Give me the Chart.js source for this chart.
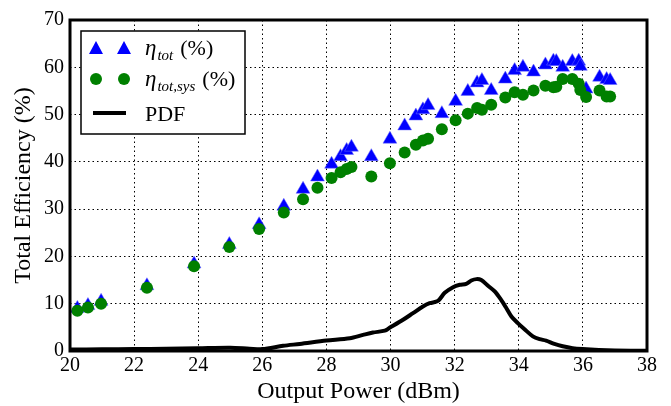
<!DOCTYPE html>
<html>
<head>
<meta charset="utf-8">
<script src="https://cdn.jsdelivr.net/npm/chart.js@4.4.0/dist/chart.umd.min.js"></script>
<style>
  html, body { margin: 0; padding: 0; background: #fff; }
  #wrap { width: 671px; height: 406px; position: relative; }
</style>
</head>
<body>
<div id="wrap"><canvas id="chart"></canvas></div>
<script>
// measured points (output power in dBm)
const outputPower = [20.23, 20.56, 20.97, 22.40, 23.87, 24.97, 25.90, 26.67, 27.27, 27.72,
  28.16, 28.44, 28.63, 28.78, 29.40, 29.98, 30.44, 30.79, 31.01, 31.17,
  31.60, 32.03, 32.41, 32.70, 32.85, 33.14, 33.58, 33.87, 34.13, 34.46,
  34.83, 35.08, 35.17, 35.37, 35.67, 35.87, 35.92, 36.10, 36.52, 36.74, 36.85];
const etaTot = [9.0, 9.6, 10.5, 13.8, 18.4, 22.5, 26.7, 30.6, 34.2, 36.8,
  39.5, 41.1, 42.4, 43.1, 41.1, 44.8, 47.6, 49.7, 51.0, 51.9,
  50.2, 52.8, 54.9, 56.7, 57.2, 55.1, 57.5, 59.3, 60.0, 59.0,
  60.5, 61.3, 61.2, 60.0, 61.2, 61.3, 60.2, 55.4, 57.9, 57.4, 57.2];
const etaTotSys = [8.5, 9.2, 10.0, 13.4, 17.9, 22.0, 25.8, 29.3, 32.1, 34.5,
  36.6, 37.8, 38.5, 38.9, 36.9, 39.7, 42.0, 43.6, 44.5, 44.9,
  46.9, 48.8, 50.2, 51.4, 51.0, 52.1, 53.6, 54.7, 54.2, 55.1,
  56.1, 55.8, 55.9, 57.5, 57.5, 56.5, 55.2, 53.7, 55.1, 53.8, 53.8];

// PDF curve
const pdfPower = [20, 21, 22, 23, 24, 25, 25.6, 26, 26.65, 27.17, 28.0, 28.73, 29.14, 29.45, 29.82,
  29.97, 30.39, 30.70, 31.01, 31.22, 31.48, 31.69, 31.95, 32.16, 32.36, 32.52, 32.68, 32.83,
  33.04, 33.25, 33.45, 33.61, 33.77, 33.97, 34.18, 34.44, 34.65, 34.85, 35.11, 35.37, 35.68,
  35.99, 36.5, 37, 38];
const pdfValues = [0.3, 0.35, 0.4, 0.5, 0.6, 0.7, 0.5, 0.4, 1.1, 1.5, 2.2, 2.7, 3.4, 3.9, 4.3,
  4.9, 6.6, 8.0, 9.4, 10.1, 10.6, 12.3, 13.5, 14.0, 14.2, 14.9, 15.2, 15.0,
  13.8, 12.6, 10.8, 9.1, 7.3, 5.9, 4.6, 3.1, 2.5, 2.2, 1.5, 1.0, 0.6,
  0.4, 0.2, 0.1, 0.05];

const xTicks = [20, 22, 24, 26, 28, 30, 32, 34, 36, 38];
const yTicks = [0, 10, 20, 30, 40, 50, 60, 70];

const SERIF = '"Liberation Serif", "DejaVu Serif", serif';

const toPts = (xs, ys) => xs.map((x, i) => ({ x, y: ys[i] }));

// frame round the plot area
const framePlugin = {
  id: 'frame',
  afterDatasetsDraw(chart) {
    const { ctx, chartArea: a } = chart;
    ctx.save();
    ctx.strokeStyle = '#000';
    ctx.lineWidth = 3;
    ctx.strokeRect(a.left, a.top, a.right - a.left, a.bottom - a.top);
    ctx.restore();
  }
};

// matplotlib-like legend with subscripts
const legendPlugin = {
  id: 'mplLegend',
  afterDraw(chart) {
    const ctx = chart.ctx;
    ctx.save();
    ctx.fillStyle = '#fff';
    ctx.fillRect(81, 31, 164, 103);
    ctx.strokeStyle = '#000';
    ctx.lineWidth = 1.5;
    ctx.strokeRect(81, 31, 164, 103);

    const tri = (x, y) => {
      ctx.beginPath();
      ctx.moveTo(x, y - 7); ctx.lineTo(x - 7, y + 6); ctx.lineTo(x + 7, y + 6);
      ctx.closePath(); ctx.fillStyle = '#0000ff'; ctx.fill();
    };
    const dot = (x, y) => {
      ctx.beginPath(); ctx.arc(x, y, 6, 0, Math.PI * 2);
      ctx.fillStyle = '#008000'; ctx.fill();
    };
    const label = (x, y, sub) => {
      ctx.fillStyle = '#000';
      ctx.textBaseline = 'alphabetic';
      ctx.textAlign = 'left';
      ctx.font = 'italic 23px ' + SERIF;
      ctx.fillText('η', x, y);
      x += ctx.measureText('η').width + 1;
      ctx.font = 'italic 15px ' + SERIF;
      ctx.fillText(sub, x, y + 5);
      x += ctx.measureText(sub).width + 7;
      ctx.font = '22px ' + SERIF;
      ctx.fillText('(%)', x, y);
    };

    tri(96, 48); tri(124, 48);
    label(145, 55, 'tot');
    dot(96, 79); dot(124, 79);
    label(145, 86, 'tot,sys');
    ctx.strokeStyle = '#000'; ctx.lineWidth = 4;
    ctx.beginPath(); ctx.moveTo(93, 113); ctx.lineTo(126, 113); ctx.stroke();
    ctx.fillStyle = '#000';
    ctx.font = '22px ' + SERIF;
    ctx.fillText('PDF', 145, 121);
    ctx.restore();
  }
};

new Chart(document.getElementById('chart'), {
  type: 'scatter',
  data: {
    datasets: [
      {
        label: 'eta_tot_sys',
        data: toPts(outputPower, etaTotSys),
        pointStyle: 'circle', pointRadius: 6, pointHoverRadius: 6,
        backgroundColor: '#008000', borderWidth: 0, order: 0
      },
      {
        label: 'eta_tot',
        data: toPts(outputPower, etaTot),
        pointStyle: 'triangle', pointRadius: 8, pointHoverRadius: 8,
        backgroundColor: '#0000ff', borderColor: '#6a6aff', borderWidth: 0.5, order: 1
      },
      {
        label: 'PDF',
        data: toPts(pdfPower, pdfValues),
        showLine: true, pointRadius: 0, borderColor: '#000', borderWidth: 4,
        tension: 0.3, order: 2
      }
    ]
  },
  options: {
    responsive: true,
    maintainAspectRatio: false,
    animation: false,
    events: [],
    layout: { padding: { left: 0, right: 24, top: 20, bottom: 0 } },
    plugins: { legend: { display: false }, tooltip: { enabled: false } },
    scales: {
      x: {
        type: 'linear', min: 20, max: 38,
        afterBuildTicks: (s) => { s.ticks = xTicks.map(v => ({ value: v })); },
        afterFit: (s) => { s.height = 55; },
        grid: { color: '#000', lineWidth: 1, drawTicks: false },
        border: { display: false, dash: [1.5, 3] },
        ticks: { color: '#000', font: { family: SERIF, size: 20 }, padding: 3, maxRotation: 0 },
        title: { display: true, text: 'Output Power (dBm)', color: '#000',
          font: { family: SERIF, size: 24 }, padding: { top: 0, bottom: 0 } }
      },
      y: {
        min: 0, max: 70,
        afterBuildTicks: (s) => { s.ticks = yTicks.map(v => ({ value: v })); },
        afterFit: (s) => { s.width = 70; },
        grid: { color: '#000', lineWidth: 1, drawTicks: false },
        border: { display: false, dash: [1.5, 3] },
        ticks: { color: '#000', font: { family: SERIF, size: 20 }, padding: 6 },
        title: { display: true, text: 'Total Efficiency (%)', color: '#000',
          font: { family: SERIF, size: 24 }, padding: { top: 9, bottom: 0 } }
      }
    }
  },
  plugins: [framePlugin, legendPlugin]
});
</script>
</body>
</html>
